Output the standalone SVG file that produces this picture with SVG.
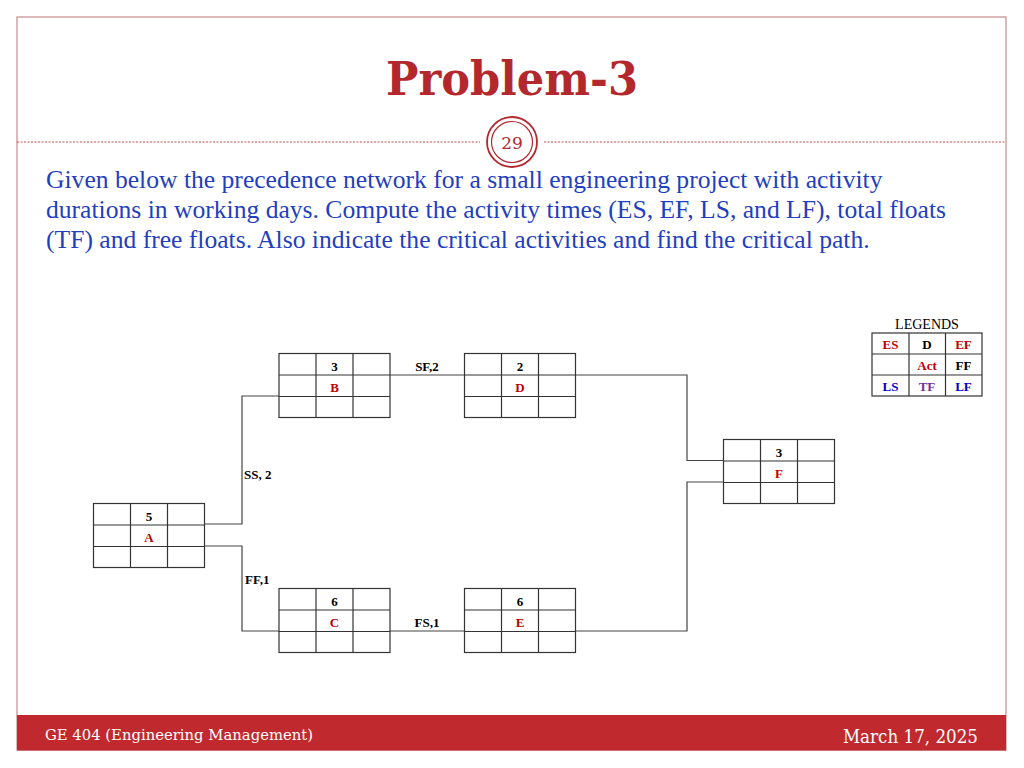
<svg xmlns="http://www.w3.org/2000/svg" width="1024" height="768" viewBox="0 0 1024 768">
<style>
.cell{fill:none;stroke:#333;stroke-width:1.2}
.conn{fill:none;stroke:#444;stroke-width:1.2}
.t{font-family:"Liberation Serif","Times New Roman",serif;font-size:13px;font-weight:bold;text-anchor:middle}
.k{fill:#000}
.r{fill:#c00000}
.b{fill:#0000cc}
.p{fill:#7030a0}
.lbl{font-family:"Liberation Serif","Times New Roman",serif;font-size:13px;font-weight:bold;fill:#000}
.body{font-family:"Liberation Serif","Times New Roman",serif;font-size:25.6px;fill:#1f3fbf}
</style>
<defs>
<g id="grid">
<rect class="cell" x="0" y="0" width="111" height="64"/>
<line class="cell" x1="37" y1="0" x2="37" y2="64"/>
<line class="cell" x1="74" y1="0" x2="74" y2="64"/>
<line class="cell" x1="0" y1="21.5" x2="111" y2="21.5"/>
<line class="cell" x1="0" y1="43" x2="111" y2="43"/>
</g>
</defs>
<rect x="0" y="0" width="1024" height="768" fill="#fff"/>
<!-- slide frame -->
<rect x="17" y="17" width="989" height="733" fill="none" stroke="#c98a8a" stroke-width="1.2"/>
<rect x="17" y="715" width="989" height="35.5" fill="#c0292e"/>
<!-- title -->
<text x="512" y="95" text-anchor="middle" font-family="Georgia,'DejaVu Serif','Liberation Serif',serif" font-weight="bold" font-size="46" fill="#b3282d" textLength="252" lengthAdjust="spacingAndGlyphs">Problem-3</text>
<line x1="17" y1="142" x2="480" y2="142" stroke="#c0504d" stroke-width="1" stroke-dasharray="2,1.5"/>
<line x1="544" y1="142" x2="1006" y2="142" stroke="#c0504d" stroke-width="1" stroke-dasharray="2,1.5"/>
<circle cx="512" cy="142" r="25" fill="#fff" stroke="#b3282d" stroke-width="1.8"/>
<circle cx="512" cy="142" r="20.5" fill="none" stroke="#b3282d" stroke-width="1.2"/>
<text x="512" y="149" text-anchor="middle" font-family="Georgia,'DejaVu Serif','Liberation Serif',serif" font-size="17" fill="#b3282d">29</text>
<!-- body -->
<text class="body" x="46" y="188">Given below the precedence network for a small engineering project with activity</text>
<text class="body" x="46" y="218">durations in working days. Compute the activity times (ES, EF, LS, and LF), total floats</text>
<text class="body" x="46" y="248">(TF) and free floats. Also indicate the critical activities and find the critical path.</text>
<!-- connectors -->
<g id="connectors">
<polyline class="conn" points="205,524 242,524 242,396 279,396"/>
<polyline class="conn" points="205,546 242,546 242,631 279,631"/>
<polyline class="conn" points="390,375 464,375"/>
<polyline class="conn" points="390,631 464,631"/>
<polyline class="conn" points="575,375 687,375 687,460.5 723,460.5"/>
<polyline class="conn" points="575,631 687,631 687,482 723,482"/>
<text class="lbl" x="427" y="371" text-anchor="middle">SF,2</text>
<text class="lbl" x="427" y="627" text-anchor="middle">FS,1</text>
<text class="lbl" x="244" y="479">SS, 2</text>
<text class="lbl" x="245" y="584">FF,1</text>
</g>
<!-- nodes -->
<g id="node-A"><use href="#grid" x="93.5" y="503.5"/><text class="t k" x="149" y="520.5">5</text><text class="t r" x="149" y="541.5">A</text></g>
<g id="node-B"><use href="#grid" x="279" y="353.5"/><text class="t k" x="334.5" y="370.5">3</text><text class="t r" x="334.5" y="391.5">B</text></g>
<g id="node-D"><use href="#grid" x="464.5" y="353.5"/><text class="t k" x="520" y="370.5">2</text><text class="t r" x="520" y="391.5">D</text></g>
<g id="node-C"><use href="#grid" x="279" y="588.5"/><text class="t k" x="334.5" y="605.5">6</text><text class="t r" x="334.5" y="626.5">C</text></g>
<g id="node-E"><use href="#grid" x="464.5" y="588.5"/><text class="t k" x="520" y="605.5">6</text><text class="t r" x="520" y="626.5">E</text></g>
<g id="node-F"><use href="#grid" x="723.5" y="439.5"/><text class="t k" x="779" y="456.5">3</text><text class="t r" x="779" y="477.5">F</text></g>
<!-- legend -->
<g id="legend">
<text x="927" y="329" text-anchor="middle" font-family="'Liberation Serif','Times New Roman',serif" font-size="14" fill="#000">LEGENDS</text>
<rect class="cell" x="872" y="333" width="110" height="63"/>
<line class="cell" x1="909" y1="333" x2="909" y2="396"/>
<line class="cell" x1="945.5" y1="333" x2="945.5" y2="396"/>
<line class="cell" x1="872" y1="354" x2="982" y2="354"/>
<line class="cell" x1="872" y1="375" x2="982" y2="375"/>
<text class="t r" x="890.5" y="349">ES</text>
<text class="t k" x="927" y="349">D</text>
<text class="t r" x="963.5" y="349">EF</text>
<text class="t r" x="927" y="370">Act</text>
<text class="t k" x="963.5" y="370">FF</text>
<text class="t b" x="890.5" y="391">LS</text>
<text class="t p" x="927" y="391">TF</text>
<text class="t b" x="963.5" y="391">LF</text>
</g>
<!-- footer -->
<text x="45" y="740" font-family="Georgia,'DejaVu Serif','Liberation Serif',serif" font-size="15" fill="#fff" textLength="268" lengthAdjust="spacingAndGlyphs">GE 404 (Engineering Management)</text>
<text x="978" y="743" text-anchor="end" font-family="Georgia,'DejaVu Serif','Liberation Serif',serif" font-size="18" fill="#fff" textLength="135" lengthAdjust="spacingAndGlyphs">March 17, 2025</text>
</svg>
